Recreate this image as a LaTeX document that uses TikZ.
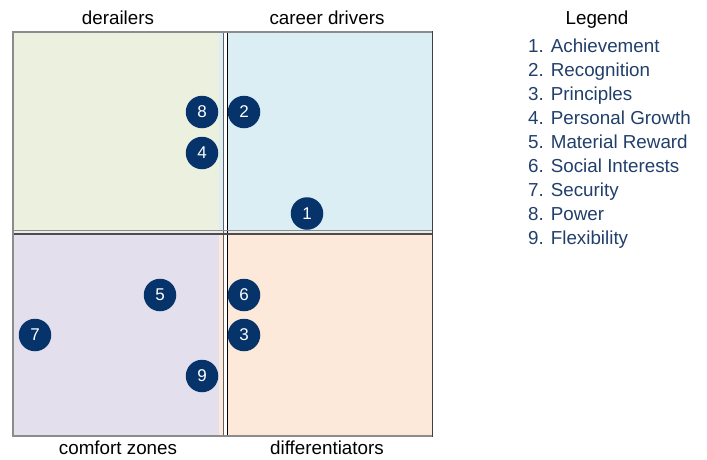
\documentclass[tikz,border=0pt]{standalone}
\usepackage{fontspec}
\setmainfont{Liberation Sans}
\definecolor{qgreen}{HTML}{EBF1DE}
\definecolor{qblue}{HTML}{DAEEF3}
\definecolor{qlav}{HTML}{E4DFEC}
\definecolor{qpeach}{HTML}{FDE9D9}
\definecolor{navy}{HTML}{06336A}
\definecolor{legendblue}{HTML}{213F6B}
\definecolor{edgegray}{HTML}{8C8C8C}
\begin{document}
\begin{tikzpicture}[x=1pt,y=-1pt,
  marker/.style={circle, fill=navy, minimum size=32.5pt, inner sep=0pt,
    text=white, font=\fontsize{17}{20}\selectfont},
  caption/.style={font=\fontsize{18.8}{22}\selectfont, text=black, inner sep=0pt},
  entry/.style={font=\fontsize{18.8}{22}\selectfont, text=legendblue,
    anchor=base west, inner sep=0pt}]
\useasboundingbox (0,0) rectangle (707,459);

% quadrant fills
\fill[qgreen]  (13,32)  rectangle (219,231);
\fill[qblue]   (219,32) rectangle (433,231);
\fill[qlav]    (13,233.5) rectangle (219,436);
\fill[qpeach]  (219,233.5) rectangle (433,436);
% gaps between the quadrants
\fill[white] (223.5,32) rectangle (226.8,436);
\fill[white!92!black] (13,231) rectangle (433,233.5);

% separating double lines
\draw[edgegray!70!black, line width=1pt] (223,32) -- (223,436);
\draw[black, line width=1.1pt] (227.2,32) -- (227.2,436);
\draw[edgegray, line width=1.2pt] (13,230.6) -- (433,230.6);
\draw[black!70, line width=1.1pt] (13,234) -- (433,234);

% outer frame
\draw[edgegray, line width=1.3pt] (432.5,436) -- (13,436) -- (13,32) -- (432.5,32);
\draw[black!75, line width=1.3pt] (432.5,31.4) -- (432.5,436.6);

% quadrant captions
\node[caption, anchor=base] (derail) at (118,24) {derailers};
\node[caption, anchor=base] (drivers) at (327,24) {career drivers};
\node[caption, anchor=base] (comfort) at (118,454) {comfort zones};
\node[caption, anchor=base] (diff) at (327,454) {differentiators};

% value markers
\node[marker] (m8) at (202,112) {8};
\node[marker] (m2) at (244,112) {2};
\node[marker] (m4) at (202,153) {4};
\node[marker] (m1) at (307,213.5) {1};
\node[marker] (m5) at (160,295) {5};
\node[marker] (m6) at (244,295) {6};
\node[marker] (m7) at (35,335) {7};
\node[marker] (m3) at (244,335) {3};
\node[marker] (m9) at (202,376) {9};

% legend
\node[caption, anchor=base] (legend) at (597,24) {Legend};
\node[entry] (l1) at (528,52)  {1. Achievement};
\node[entry] (l2) at (528,76)  {2. Recognition};
\node[entry] (l3) at (528,100) {3. Principles};
\node[entry] (l4) at (528,124) {4. Personal Growth};
\node[entry] (l5) at (528,148) {5. Material Reward};
\node[entry] (l6) at (528,172) {6. Social Interests};
\node[entry] (l7) at (528,196) {7. Security};
\node[entry] (l8) at (528,220) {8. Power};
\node[entry] (l9) at (528,244) {9. Flexibility};
\end{tikzpicture}
\end{document}
